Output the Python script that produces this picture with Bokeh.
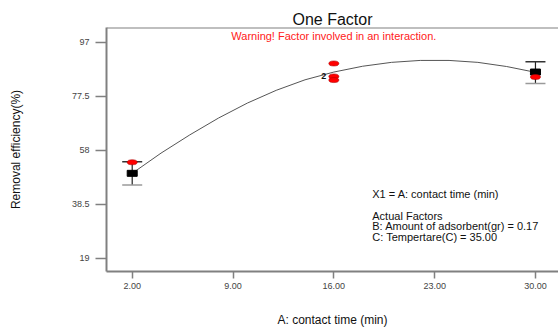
from bokeh.plotting import figure
from bokeh.models import (Range1d, FixedTicker, Label, Span, ColumnDataSource)
from bokeh.embed import file_html
from bokeh.resources import INLINE
from bokeh.core.properties import value

# ---- data ----
x_ticks = [2, 9, 16, 23, 30]
x_tick_labels = ["2.00", "9.00", "16.00", "23.00", "30.00"]
y_ticks = [19, 38.5, 58, 77.5, 97]
y_tick_labels = ["19", "38.5", "58", "77.5", "97"]

# fitted model curve
curve_x = [2, 4, 6, 8, 10, 12, 14, 16, 18, 20, 22, 24, 26, 28, 30]
curve_y = [49.6, 56.9, 63.5, 69.6, 75.0, 79.6, 83.4, 86.2, 88.3, 89.7, 90.4, 90.4, 89.7, 88.2, 86.1]

# design points (red)
design_x = [2, 16, 16, 16, 30]
design_y = [53.6, 89.3, 84.6, 83.3, 84.4]

# predicted points with LSD bars (black)
pred_x = [2, 30]
pred_y = [49.6, 86.2]
bar_low = [45.4, 82.1]
bar_high = [53.8, 89.9]

# replicate count label
rep_x = [16]
rep_y = [84.8]
rep_text = ["2"]

FONT = "Liberation Sans"

p = figure(width=558, height=329, output_backend="svg", toolbar_location=None,
           x_range=Range1d(0.215, 31.6), y_range=Range1d(14.13, 102.3),
           min_border_left=106, min_border_right=0, min_border_top=27, min_border_bottom=56)
p.outline_line_color = None
p.grid.visible = False
p.background_fill_color = "white"
p.border_fill_color = "white"

# title
p.title.text = "One Factor"
p.title.align = "center"
p.title.text_font = FONT
p.title.text_font_size = "16px"
p.title.text_font_style = "normal"
p.title.text_color = "#111111"
p.title.standoff = 0
p.title.offset = 0

for ax in (p.xaxis[0], p.yaxis[0]):
    ax.axis_line_color = "#808080"
    ax.axis_line_width = 2
    ax.major_tick_line_color = "#808080"
    ax.major_tick_line_width = 1.5
    ax.minor_tick_line_color = None
    ax.major_tick_in = 0
    ax.major_label_text_font = FONT
    ax.major_label_text_font_size = "9px"
    ax.major_label_text_color = "#444444"
    ax.axis_label_text_font = FONT
    ax.axis_label_text_font_size = "12px"
    ax.axis_label_text_font_style = "normal"
    ax.axis_label_text_color = "#111111"

p.xaxis.ticker = FixedTicker(ticks=x_ticks)
p.xaxis.major_label_overrides = {t: l for t, l in zip(x_ticks, x_tick_labels)}
p.xaxis.major_tick_out = 7
p.xaxis.major_label_standoff = 4
p.xaxis.axis_label = "A: contact time (min)"
p.xaxis.axis_label_standoff = 21

p.yaxis.ticker = FixedTicker(ticks=y_ticks)
p.yaxis.major_label_overrides = {t: l for t, l in zip(y_ticks, y_tick_labels)}
p.yaxis.major_tick_out = 11
p.yaxis.major_label_standoff = 6
p.yaxis.axis_label = "Removal efficiency(%)"
p.yaxis.axis_label_standoff = 46

# top frame line
p.add_layout(Span(location=102.3, dimension="width", line_color="#808080", line_width=2))

# curve
p.line(curve_x, curve_y, line_color="#555555", line_width=1)

# error bars
src = ColumnDataSource(dict(x=pred_x, y=pred_y, lo=bar_low, hi=bar_high))
p.segment(x0="x", y0="lo", x1="x", y1="hi", source=src, line_color="#222222", line_width=1.2)
p.rect(x="x", y="hi", width=20, height=1.5, width_units="screen", height_units="screen",
       source=src, fill_color="#333333", line_color=None)
p.rect(x="x", y="lo", width=20, height=1.5, width_units="screen", height_units="screen",
       source=src, fill_color="#9a9a9a", line_color=None)

# predicted squares
p.rect(x="x", y="y", width=10, height=6, width_units="screen", height_units="screen",
       source=src, fill_color="black", line_color="black")

# design points
p.ellipse(x=design_x, y=design_y, width=10, height=5, width_units="screen", height_units="screen",
          fill_color="#ff0000", line_color="#b00000", line_width=0.6)

# replicate label
p.text(x=rep_x, y=rep_y, text=rep_text, x_offset=-10, text_align="center", text_baseline="middle",
       text_font=value(FONT), text_font_size="9px", text_font_style="bold", text_color="#111111")

# warning
p.add_layout(Label(x=16, y=99.1, text="Warning! Factor involved in an interaction.",
                   text_align="center", text_baseline="middle", text_font=FONT,
                   text_font_size="11px", text_color="#ff2020"))

# factor info
info = [("X1 = A: contact time (min)", 42.3),
        ("Actual Factors", 34.3),
        ("B: Amount of adsorbent(gr) = 0.17", 30.4),
        ("C: Tempertare(C) = 35.00", 26.6)]
for txt, yy in info:
    p.add_layout(Label(x=18.67, y=yy, text=txt, text_align="left", text_baseline="middle",
                       text_font=FONT, text_font_size="11px", text_color="#111111"))

open("out.html", "w").write(file_html(p, INLINE))
